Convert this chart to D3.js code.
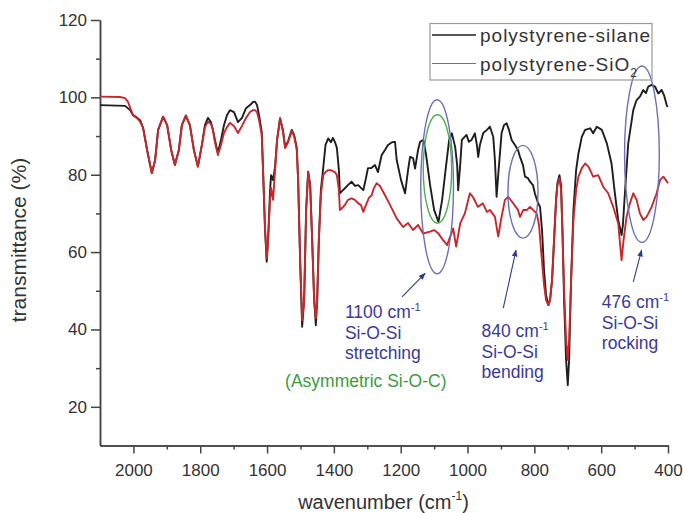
<!DOCTYPE html>
<html><head><meta charset="utf-8">
<script src="https://cdn.jsdelivr.net/npm/d3@7"></script>
<style>
body{margin:0;background:#fff}
svg{display:block}
text{font-family:"Liberation Sans",Arial,Helvetica,sans-serif}
</style>
</head><body>
<svg id="chart" width="683" height="513"></svg>
<script>
// ---- data: [wavenumber (cm-1), transmittance (%)] ----
const silane = [
[2100,98.0],[2025,97.8],[2010,96.7],[2001,95.4],[1989,94.7],[1980,94.1],[1971,92.1],[1959,86.4],[1945,80.4],[1935,83.8],
[1926,91.6],[1911,95.0],[1899,92.8],[1887,86.4],[1876,82.5],[1864,86.4],[1855,92.8],[1843,95.3],[1831,92.8],[1819,86.4],
[1807,82.1],[1795,87.7],[1786,92.8],[1777,94.7],[1768,93.6],[1762,91.6],[1756,89.0],[1747,85.6],[1738,89.0],[1729,92.8],
[1720,95.4],[1711,96.7],[1699,96.2],[1687,93.6],[1675,94.7],[1663,97.2],[1651,98.0],[1642,98.8],[1636,98.9],[1630,98.0],
[1624,95.4],[1616,91.1],[1612,81.2],[1606,65.7],[1601,57.5],[1597,63.1],[1591,76.0],[1588,79.9],[1582,78.6],[1576,82.1],
[1570,89.0],[1561,94.6],[1552,91.3],[1546,87.2],[1537,88.7],[1526,91.6],[1519,90.3],[1511,86.9],[1507,78.6],[1501,57.9],
[1495,40.7],[1489,47.6],[1483,70.9],[1477,80.8],[1471,77.3],[1465,63.1],[1459,47.6],[1454,41.1],[1450,47.6],[1445,63.1],
[1439,76.0],[1432,81.7],[1425,87.7],[1417,89.4],[1409,88.4],[1403,89.5],[1397,88.5],[1391,86.9],[1385,81.2],[1382,75.2],
[1373,76.0],[1367,76.5],[1358,77.3],[1347,78.2],[1337,77.1],[1327,77.3],[1319,76.6],[1312,76.0],[1304,79.1],[1298,81.7],
[1289,81.7],[1277,82.5],[1268,80.7],[1257,85.1],[1247,86.4],[1238,87.7],[1226,88.4],[1217,88.5],[1212,83.8],[1199,78.6],
[1187,75.2],[1178,81.2],[1172,84.6],[1163,84.3],[1157,81.6],[1148,86.4],[1142,88.5],[1132,89.0],[1124,85.1],[1112,77.3],
[1100,70.9],[1087,67.8],[1076,73.5],[1064,82.5],[1055,89.0],[1047,90.7],[1037,87.2],[1031,82.5],[1028,76.0],[1022,82.5],
[1017,89.0],[1003,90.3],[996,88.5],[988,89.0],[978,90.7],[972,87.7],[968,84.6],[963,87.7],[953,90.8],[942,91.6],
[933,92.4],[923,89.8],[918,83.8],[913,74.3],[907,81.2],[898,90.8],[891,92.8],[883,93.3],[876,91.6],[868,89.0],
[858,87.7],[849,86.4],[843,84.6],[834,82.5],[828,79.5],[819,79.1],[813,78.2],[804,77.3],[798,75.0],[789,72.7],
[783,71.7],[777,65.7],[771,55.3],[765,48.9],[758,46.3],[753,47.6],[747,52.8],[741,63.1],[735,73.5],[731,77.8],
[725,79.9],[720,77.3],[716,65.7],[711,47.6],[705,32.1],[700,25.6],[696,32.1],[690,52.8],[683,70.9],[675,81.2],
[668,85.5],[658,89.8],[648,91.6],[633,92.0],[624,90.7],[613,92.4],[598,91.6],[583,88.1],[569,82.9],[559,75.2],
[549,68.3],[539,64.4],[535,67.0],[529,75.2],[519,88.1],[504,96.7],[494,99.3],[484,100.2],[474,101.9],[466,101.1],
[459,102.8],[449,103.2],[439,102.8],[429,101.0],[419,101.9],[412,100.6],[404,98.0],[401,97.5]
];
const sio2 = [
[2100,100.2],[2040,100.1],[2025,99.8],[2016,98.8],[2007,96.7],[2001,95.4],[1989,94.7],[1980,93.7],[1971,92.1],[1959,86.4],
[1945,80.4],[1935,83.8],[1926,91.6],[1911,95.0],[1899,92.8],[1887,86.4],[1876,82.5],[1864,86.4],[1855,92.8],[1843,95.3],
[1831,92.8],[1819,86.4],[1807,82.1],[1795,87.7],[1786,92.3],[1777,93.7],[1768,93.1],[1762,91.6],[1756,88.4],[1747,85.1],
[1738,87.7],[1729,90.8],[1720,92.3],[1711,93.4],[1699,92.6],[1687,90.8],[1675,92.6],[1663,94.7],[1651,96.2],[1642,96.7],
[1636,96.7],[1630,96.2],[1624,94.1],[1616,90.3],[1612,81.2],[1606,65.7],[1601,58.5],[1597,63.1],[1591,73.5],[1588,76.6],
[1582,73.5],[1576,81.2],[1570,89.0],[1561,94.6],[1552,91.0],[1546,86.9],[1537,88.4],[1526,91.3],[1519,90.0],[1511,86.4],
[1507,78.6],[1501,57.9],[1495,42.4],[1489,47.6],[1483,70.9],[1477,80.7],[1471,77.3],[1465,63.1],[1459,47.6],[1454,42.9],
[1450,47.6],[1445,63.1],[1439,74.7],[1432,79.9],[1425,80.7],[1417,81.2],[1409,81.2],[1397,80.7],[1391,79.9],[1385,76.0],
[1382,70.9],[1373,71.6],[1367,72.2],[1358,73.5],[1347,73.9],[1337,73.5],[1327,72.6],[1319,72.2],[1312,70.4],[1304,72.2],
[1295,74.0],[1287,74.7],[1280,76.6],[1272,77.8],[1262,77.1],[1247,74.7],[1232,72.2],[1212,68.7],[1193,66.5],[1178,67.5],
[1163,65.7],[1148,67.0],[1133,64.8],[1112,65.3],[1100,65.7],[1088,64.9],[1073,63.1],[1061,61.8],[1052,64.0],[1043,66.1],
[1034,61.4],[1022,67.4],[1008,70.0],[993,75.2],[984,74.3],[969,71.7],[954,72.6],[942,70.4],[933,70.9],[918,69.1],
[908,64.0],[900,68.3],[888,73.5],[878,74.3],[864,72.7],[849,70.9],[843,69.1],[833,70.9],[822,70.9],[813,71.7],
[804,70.9],[793,70.0],[786,67.0],[780,60.5],[771,51.5],[765,47.6],[758,46.3],[753,47.6],[747,52.8],[741,63.1],
[735,73.5],[731,77.3],[725,79.1],[720,76.0],[716,65.7],[711,50.2],[705,37.2],[700,32.1],[696,37.2],[690,52.8],
[683,68.3],[675,76.0],[668,79.5],[658,81.7],[648,82.9],[638,82.1],[624,79.5],[609,79.9],[594,76.9],[579,75.2],
[564,71.7],[549,67.4],[539,57.9],[533,63.1],[524,69.1],[514,72.6],[504,75.2],[494,73.5],[484,70.0],[474,68.3],
[464,69.1],[449,71.7],[434,75.2],[424,78.6],[414,79.5],[406,78.6],[400,77.8]
];
const xTicks = [2000,1800,1600,1400,1200,1000,800,600,400];
const xMinorTicks = [1900,1700,1500,1300,1100,900,700,500];
const yTicks = [20,40,60,80,100,120];
const yMinorTicks = [30,50,70,90,110];
const seriesNames = ["polystyrene-silane","polystyrene-SiO"];
// annotation ellipses in data units: centre wavenumber, centre %T, half-width (cm-1), half-height (%)
const ellipseCenters = [[1091,76.9],[1090,81.5],[834,75.6],[478,85.3]];
const ellipseRadii = [[49,22.5],[42.5,14],[45,12],[52,22.8]];
const ellipseKinds = ["blue","green","blue","blue"];
const arrowFrom = [[1196,48.4],[893,45.5],[504,52.3]];
const arrowTo = [[1127,54.5],[855,60.5],[479,60.5]];
const noteAnchors = [[1367,42.9],[958,38.0],[598,45.5]];
const noteWaves = ["1100","840","476"];
const noteModes = ["stretching","bending","rocking"];
const greenNoteAnchor = [1546,25.1];
const greenNote = "(Asymmetric Si-O-C)";

// ---- drawing ----
const svg = d3.select("#chart");
const x = d3.scaleLinear().domain([2100,400]).range([100,668]);
const y = d3.scaleLinear().domain([10,120]).range([445.5,20]);
const axisColor = "#444", textColor = "#333";
const cBlack = "#1e1e1e", cRed = "#c8282c", cBlue = "#6e6eb8", cGreen = "#4fae4f",
      cNote = "#3a3a9a", cGreenText = "#3c9c3c", cArrow = "#2c3c8c";

function styleAxis(g){
  g.selectAll("path,line").attr("stroke",axisColor).attr("stroke-width",1.5);
  g.selectAll("text").attr("fill",textColor).attr("font-size",17).attr("font-family",'"Liberation Sans",Arial,sans-serif');
}
// minor ticks
svg.append("g").attr("transform","translate(0,445.5)")
  .call(d3.axisBottom(x).tickValues(xMinorTicks).tickSize(4).tickFormat("").tickSizeOuter(0))
  .call(styleAxis);
svg.append("g").attr("transform","translate(100,0)")
  .call(d3.axisLeft(y).tickValues(yMinorTicks).tickSize(4).tickFormat("").tickSizeOuter(0))
  .call(styleAxis);
// major ticks
svg.append("g").attr("transform","translate(0,445.5)")
  .call(d3.axisBottom(x).tickValues(xTicks).tickSize(8).tickPadding(10).tickFormat(d3.format("d")).tickSizeOuter(0))
  .call(styleAxis);
svg.append("g").attr("transform","translate(100,0)")
  .call(d3.axisLeft(y).tickValues(yTicks).tickSize(9).tickPadding(4).tickFormat(d3.format("d")).tickSizeOuter(0))
  .call(styleAxis);

// axis titles
svg.append("text").attr("transform","translate(26,240) rotate(-90)")
  .attr("text-anchor","middle").attr("font-size",21).attr("fill",textColor)
  .text("transmittance (%)");
const xt = svg.append("text").attr("x",383.5).attr("y",509).attr("text-anchor","middle")
  .attr("font-size",20).attr("fill",textColor);
xt.append("tspan").text("wavenumber (cm");
xt.append("tspan").attr("font-size",12).attr("dy",-9).text("-1");
xt.append("tspan").attr("dy",9).text(")");

// lines
const line = d3.line().x(d=>x(d[0])).y(d=>y(d[1]));
svg.append("path").datum(silane).attr("d",line).attr("fill","none")
  .attr("stroke",cBlack).attr("stroke-width",1.9).attr("stroke-linejoin","round");
svg.append("path").datum(sio2).attr("d",line).attr("fill","none")
  .attr("stroke",cRed).attr("stroke-width",1.9).attr("stroke-linejoin","round");

// ellipses
svg.append("g").selectAll("ellipse").data(ellipseCenters).join("ellipse")
  .attr("cx",d=>x(d[0])).attr("cy",d=>y(d[1]))
  .attr("rx",(d,i)=>x(d[0]-ellipseRadii[i][0])-x(d[0]))
  .attr("ry",(d,i)=>y(d[1]-ellipseRadii[i][1])-y(d[1]))
  .attr("fill","none").attr("stroke",(d,i)=>ellipseKinds[i]==="green"?cGreen:cBlue)
  .attr("stroke-width",1.4);

// arrows
svg.append("defs").append("marker").attr("id","ah").attr("viewBox","0 0 10 10")
  .attr("refX",9).attr("refY",5).attr("markerWidth",7).attr("markerHeight",7)
  .attr("orient","auto").attr("markerUnits","userSpaceOnUse")
  .append("path").attr("d","M0,1 L10,5 L0,9 z").attr("fill",cArrow);
svg.append("g").selectAll("line").data(arrowFrom).join("line")
  .attr("x1",d=>x(d[0])).attr("y1",d=>y(d[1]))
  .attr("x2",(d,i)=>x(arrowTo[i][0])).attr("y2",(d,i)=>y(arrowTo[i][1]))
  .attr("stroke",cArrow).attr("stroke-width",1.1).attr("marker-end","url(#ah)");

// notes
noteAnchors.forEach((a,i)=>{
  const g = svg.append("g").attr("fill",cNote).attr("font-size",17.5);
  const x0 = x(a[0]), y0 = y(a[1]);
  const t1 = g.append("text").attr("x",x0).attr("y",y0);
  t1.append("tspan").text(noteWaves[i]+" cm");
  t1.append("tspan").attr("font-size",11).attr("dy",-7).text("-1");
  g.append("text").attr("x",x0).attr("y",y0+20.5).text("Si-O-Si");
  g.append("text").attr("x",x0).attr("y",y0+41).text(noteModes[i]);
});
svg.append("text").attr("x",x(greenNoteAnchor[0])).attr("y",y(greenNoteAnchor[1]))
  .attr("fill",cGreenText).attr("font-size",17.5).text(greenNote);

// legend
const lg = svg.append("g");
lg.append("rect").attr("x",430).attr("y",23.5).attr("width",222).attr("height",56.5)
  .attr("fill","none").attr("stroke","#9a9a9a").attr("stroke-width",1.2);
const legColors = [cBlack, "#d8484a"];
seriesNames.forEach((n,i)=>{
  const ly = 35 + i*28.5;
  lg.append("line").attr("x1",432).attr("x2",476).attr("y1",ly).attr("y2",ly)
    .attr("stroke",legColors[i]).attr("stroke-width",i===0?1.6:1.1);
  const t = lg.append("text").attr("x",480).attr("y",ly+7).attr("font-size",19)
    .attr("letter-spacing",1).attr("fill",textColor);
  t.append("tspan").text(n);
  if(i===1) t.append("tspan").attr("font-size",12).attr("dy",6).text("2");
});
</script>
</body></html>
